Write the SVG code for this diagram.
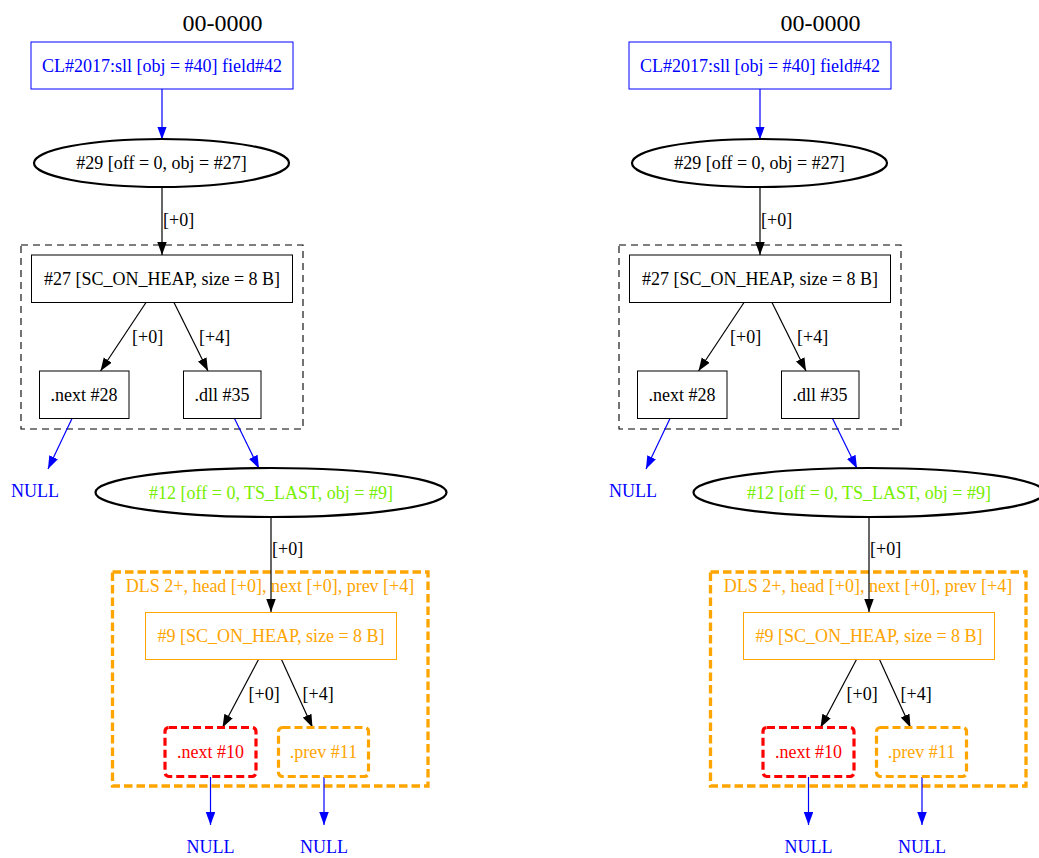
<svg xmlns="http://www.w3.org/2000/svg" width="1039" height="858" viewBox="0 0 1039 858">
  <style>
    text { font-family: "Liberation Serif", "Times New Roman", serif; font-size: 18px; text-anchor: middle; }
    .title { font-size: 24px; fill: #000; }
    .lbl { text-anchor: start; fill: #000; }
    .blue { fill: #0000ff; }
    .black { fill: #000; }
    .green { fill: #76ee00; }
    .orange { fill: #ffa500; }
    .red { fill: #ff0000; }
    .box { fill: #fff; stroke: #000; stroke-width: 1; }
    .box-blue { fill: #fff; stroke: #0000ff; stroke-width: 1; }
    .box-orange { fill: none; stroke: #ffa500; stroke-width: 1; }
    .ell { fill: #fff; stroke: #000; stroke-width: 2.2; }
    .cluster { fill: none; stroke: #000; stroke-width: 1.1; stroke-dasharray: 7 5; }
    .cluster-dls { fill: none; stroke: #ffa500; stroke-width: 3.3; stroke-dasharray: 8.5 4; }
    .fld-red { fill: none; stroke: #ff0000; stroke-width: 3.2; stroke-dasharray: 8 4; }
    .fld-orange { fill: none; stroke: #ffa500; stroke-width: 3.2; stroke-dasharray: 8 4; }
    .e-black { fill: none; stroke: #000; stroke-width: 1.2; marker-end: url(#arrow-black); }
    .e-blue { fill: none; stroke: #0000ff; stroke-width: 1.2; marker-end: url(#arrow-blue); }
  </style>
  <defs>
    <marker id="arrow-black" markerUnits="userSpaceOnUse" markerWidth="14" markerHeight="10" refX="13" refY="4.75" orient="auto">
      <path d="M0,0 L13,4.75 L0,9.5 z" fill="#000"/>
    </marker>
    <marker id="arrow-blue" markerUnits="userSpaceOnUse" markerWidth="14" markerHeight="10" refX="13" refY="4.75" orient="auto">
      <path d="M0,0 L13,4.75 L0,9.5 z" fill="#0000ff"/>
    </marker>
  </defs>
  <rect x="0" y="0" width="1039" height="858" fill="#fff"/>

  <!-- left graph -->
  <g id="graph-a">
    <text class="title" x="222.5" y="31">00-0000</text>

    <g id="a-cluster-27">
      <rect class="cluster" x="21" y="245" width="282" height="184"/>
    </g>
    <g id="a-cluster-dls">
      <rect class="cluster-dls" x="112.5" y="572" width="315.5" height="214"/>
      <text class="orange" x="270" y="592">DLS 2+, head [+0], next [+0], prev [+4]</text>
    </g>

    <g id="a-connectors">
      <path class="e-blue" d="M162,89 L162,139.5"/>
      <path class="e-black" d="M162,187 L162,255"/>
      <text class="lbl" x="163" y="226">[+0]</text>
      <path class="e-black" d="M146,302.5 L100.5,371"/>
      <text class="lbl" x="132" y="343">[+0]</text>
      <path class="e-black" d="M174,302.5 L208,371"/>
      <text class="lbl" x="199" y="343">[+4]</text>
      <path class="e-blue" d="M72,418.5 L48,469"/>
      <path class="e-blue" d="M234.5,418.5 L259,468.5"/>
      <path class="e-black" d="M271,517 L271,612"/>
      <text class="lbl" x="272" y="555">[+0]</text>
      <path class="e-black" d="M258.5,659.5 L222.5,727.5"/>
      <text class="lbl" x="248.5" y="700">[+0]</text>
      <path class="e-black" d="M281.5,659.5 L312.5,727.5"/>
      <text class="lbl" x="302.5" y="700">[+4]</text>
      <path class="e-blue" d="M210.5,777 L210.5,825"/>
      <path class="e-blue" d="M324,777 L324,825"/>
    </g>

    <g id="a-node-cl">
      <rect class="box-blue" x="31" y="42" width="262" height="47"/>
      <text class="blue" x="162" y="71.5">CL#2017:sll [obj = #40] field#42</text>
    </g>
    <g id="a-node-29">
      <ellipse class="ell" cx="161.5" cy="163" rx="127.5" ry="24"/>
      <text class="black" x="161.5" y="169">#29 [off = 0, obj = #27]</text>
    </g>
    <g id="a-node-27">
      <rect class="box" x="31.5" y="255" width="261" height="47.5"/>
      <text class="black" x="162" y="285">#27 [SC_ON_HEAP, size = 8 B]</text>
    </g>
    <g id="a-node-28">
      <rect class="box" x="39.5" y="371" width="89.5" height="47.5"/>
      <text class="black" x="84" y="401">.next #28</text>
    </g>
    <g id="a-node-35">
      <rect class="box" x="183.5" y="371" width="77.5" height="47.5"/>
      <text class="black" x="222" y="401">.dll #35</text>
    </g>
    <g id="a-null-1">
      <text class="blue" x="35" y="497">NULL</text>
    </g>
    <g id="a-node-12">
      <ellipse class="ell" cx="271" cy="492.5" rx="175.5" ry="24.5"/>
      <text class="green" x="271" y="498.5">#12 [off = 0, TS_LAST, obj = #9]</text>
    </g>
    <g id="a-node-9">
      <rect class="box-orange" x="145.5" y="612.5" width="251" height="47"/>
      <text class="orange" x="271" y="642">#9 [SC_ON_HEAP, size = 8 B]</text>
    </g>
    <g id="a-node-10">
      <rect class="fld-red" x="165" y="727.5" width="91" height="49" rx="4"/>
      <text class="red" x="210.5" y="758">.next #10</text>
    </g>
    <g id="a-node-11">
      <rect class="fld-orange" x="278.5" y="727.5" width="90" height="49" rx="4"/>
      <text class="orange" x="323.5" y="758">.prev #11</text>
    </g>
    <g id="a-null-2">
      <text class="blue" x="210.5" y="853">NULL</text>
    </g>
    <g id="a-null-3">
      <text class="blue" x="324" y="853">NULL</text>
    </g>
  </g>

  <!-- right graph: same structure shifted right -->
  <g id="graph-b" transform="translate(598,0)">
    <text class="title" x="222.5" y="31">00-0000</text>

    <g id="b-cluster-27">
      <rect class="cluster" x="21" y="245" width="282" height="184"/>
    </g>
    <g id="b-cluster-dls">
      <rect class="cluster-dls" x="112.5" y="572" width="315.5" height="214"/>
      <text class="orange" x="270" y="592">DLS 2+, head [+0], next [+0], prev [+4]</text>
    </g>

    <g id="b-connectors">
      <path class="e-blue" d="M162,89 L162,139.5"/>
      <path class="e-black" d="M162,187 L162,255"/>
      <text class="lbl" x="163" y="226">[+0]</text>
      <path class="e-black" d="M146,302.5 L100.5,371"/>
      <text class="lbl" x="132" y="343">[+0]</text>
      <path class="e-black" d="M174,302.5 L208,371"/>
      <text class="lbl" x="199" y="343">[+4]</text>
      <path class="e-blue" d="M72,418.5 L48,469"/>
      <path class="e-blue" d="M234.5,418.5 L259,468.5"/>
      <path class="e-black" d="M271,517 L271,612"/>
      <text class="lbl" x="272" y="555">[+0]</text>
      <path class="e-black" d="M258.5,659.5 L222.5,727.5"/>
      <text class="lbl" x="248.5" y="700">[+0]</text>
      <path class="e-black" d="M281.5,659.5 L312.5,727.5"/>
      <text class="lbl" x="302.5" y="700">[+4]</text>
      <path class="e-blue" d="M210.5,777 L210.5,825"/>
      <path class="e-blue" d="M324,777 L324,825"/>
    </g>

    <g id="b-node-cl">
      <rect class="box-blue" x="31" y="42" width="262" height="47"/>
      <text class="blue" x="162" y="71.5">CL#2017:sll [obj = #40] field#42</text>
    </g>
    <g id="b-node-29">
      <ellipse class="ell" cx="161.5" cy="163" rx="127.5" ry="24"/>
      <text class="black" x="161.5" y="169">#29 [off = 0, obj = #27]</text>
    </g>
    <g id="b-node-27">
      <rect class="box" x="31.5" y="255" width="261" height="47.5"/>
      <text class="black" x="162" y="285">#27 [SC_ON_HEAP, size = 8 B]</text>
    </g>
    <g id="b-node-28">
      <rect class="box" x="39.5" y="371" width="89.5" height="47.5"/>
      <text class="black" x="84" y="401">.next #28</text>
    </g>
    <g id="b-node-35">
      <rect class="box" x="183.5" y="371" width="77.5" height="47.5"/>
      <text class="black" x="222" y="401">.dll #35</text>
    </g>
    <g id="b-null-1">
      <text class="blue" x="35" y="497">NULL</text>
    </g>
    <g id="b-node-12">
      <ellipse class="ell" cx="271" cy="492.5" rx="175.5" ry="24.5"/>
      <text class="green" x="271" y="498.5">#12 [off = 0, TS_LAST, obj = #9]</text>
    </g>
    <g id="b-node-9">
      <rect class="box-orange" x="145.5" y="612.5" width="251" height="47"/>
      <text class="orange" x="271" y="642">#9 [SC_ON_HEAP, size = 8 B]</text>
    </g>
    <g id="b-node-10">
      <rect class="fld-red" x="165" y="727.5" width="91" height="49" rx="4"/>
      <text class="red" x="210.5" y="758">.next #10</text>
    </g>
    <g id="b-node-11">
      <rect class="fld-orange" x="278.5" y="727.5" width="90" height="49" rx="4"/>
      <text class="orange" x="323.5" y="758">.prev #11</text>
    </g>
    <g id="b-null-2">
      <text class="blue" x="210.5" y="853">NULL</text>
    </g>
    <g id="b-null-3">
      <text class="blue" x="324" y="853">NULL</text>
    </g>
  </g>
</svg>
